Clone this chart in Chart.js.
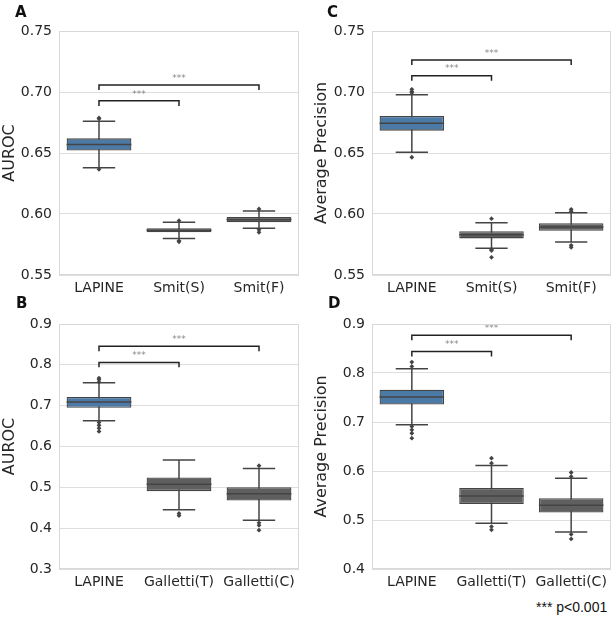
<!DOCTYPE html>
<html>
<head>
<meta charset="utf-8">
<script src="https://cdn.jsdelivr.net/npm/chart.js@4.4.1/dist/chart.umd.min.js"></script>
<style>
  body { margin: 0; background: #fff; }
  #wrap { position: relative; width: 615px; height: 618px; background: #fff; overflow: hidden; }
  .panel { position: absolute; }
  .letter { position: absolute; font: bold 15px "DejaVu Sans", sans-serif; color: #111; line-height: 15px; }
  #note { position: absolute; left: 536px; top: 599px; font: 14px "Liberation Sans", Arial, sans-serif; color: #111; }
</style>
</head>
<body>
<div id="wrap">
  <div class="panel" style="left:0;top:0;width:307px;height:297px"><canvas id="chartA"></canvas></div>
  <div class="panel" style="left:312px;top:0;width:303px;height:297px"><canvas id="chartC"></canvas></div>
  <div class="panel" style="left:0;top:293px;width:307px;height:300px"><canvas id="chartB"></canvas></div>
  <div class="panel" style="left:312px;top:293px;width:303px;height:300px"><canvas id="chartD"></canvas></div>
  <div class="letter" style="left:15px;top:5px">A</div>
  <div class="letter" style="left:327px;top:5px">C</div>
  <div class="letter" style="left:16px;top:296px">B</div>
  <div class="letter" style="left:328px;top:296px">D</div>
  <div id="note">*** p&lt;0.001</div>
</div>
<script>
// categories
const smitLabels = ['LAPINE', 'Smit(S)', 'Smit(F)'];
const gallettiLabels = ['LAPINE', 'Galletti(T)', 'Galletti(C)'];

// box stats per category: [whisker low, q1, median, q3, whisker high]
const aucSmit = [[0.638, 0.652, 0.657, 0.662, 0.676], [0.580, 0.585, 0.5866, 0.5883, 0.5932], [0.5883, 0.5932, 0.5954, 0.5975, 0.6025]];
const apSmit = [[0.6506, 0.6683, 0.6743, 0.6803, 0.6978], [0.5719, 0.580, 0.583, 0.5858, 0.5929], [0.577, 0.5863, 0.5893, 0.5924, 0.601]];
const aucGalletti = [[0.663, 0.695, 0.7088, 0.7211, 0.7562], [0.4449, 0.4907, 0.5078, 0.5242, 0.5667], [0.4196, 0.4678, 0.4842, 0.5005, 0.5462]];
const apGalletti = [[0.6943, 0.7358, 0.7508, 0.7658, 0.8087], [0.4933, 0.5328, 0.5492, 0.5655, 0.6112], [0.4756, 0.5151, 0.5301, 0.5444, 0.5853]];

// outliers: [category index, value]
const aucSmitOut = [[0, 0.6787], [0, 0.6780], [0, 0.6366], [1, 0.5945], [1, 0.578], [1, 0.5772], [2, 0.6041], [2, 0.587], [2, 0.585]];
const apSmitOut = [[0, 0.7022], [0, 0.7005], [0, 0.6994], [0, 0.6465], [1, 0.5962], [1, 0.571], [1, 0.570], [1, 0.5645], [2, 0.6038], [2, 0.6022], [2, 0.5743], [2, 0.5727]];
const aucGallettiOut = [[0, 0.7676], [0, 0.764], [0, 0.7578], [0, 0.659], [0, 0.652], [0, 0.645], [0, 0.637], [1, 0.436], [1, 0.431], [2, 0.5528], [2, 0.413], [2, 0.407], [2, 0.395]];
const apGallettiOut = [[0, 0.8223], [0, 0.8135], [0, 0.691], [0, 0.684], [0, 0.677], [0, 0.667], [1, 0.6262], [1, 0.616], [1, 0.4865], [1, 0.480], [2, 0.5969], [2, 0.5887], [2, 0.4708], [2, 0.4613]];

// significance brackets: [from, to, bar value, tick end value]
const aucSmitBr = [[0, 1, 0.6929, 0.6885], [0, 2, 0.7057, 0.7016]];
const apSmitBr = [[0, 1, 0.7134, 0.7093], [0, 2, 0.7262, 0.7221]];
const aucGallettiBr = [[0, 1, 0.806, 0.7938], [0, 2, 0.8453, 0.833]];
const apGallettiBr = [[0, 1, 0.8441, 0.8339], [0, 2, 0.8768, 0.8666]];

const boxColors = ['#4b7aa7', '#5f5f5f', '#5f5f5f'];
const lineColor = '#444444';
const font = { family: 'DejaVu Sans', size: 14 };
const titleFont = { family: 'DejaVu Sans', size: 16 };

const boxPlugin = {
  id: 'boxParts',
  beforeDatasetsDraw(chart, args, opts) {
    const ctx = chart.ctx, x = chart.scales.x, y = chart.scales.y;
    const bars = chart.getDatasetMeta(0).data;
    ctx.save();
    ctx.strokeStyle = lineColor;
    ctx.lineWidth = 1.5;
    opts.stats.forEach((s, i) => {
      const cx = x.getPixelForValue(i);
      const half = bars[i].width / 4;
      ctx.beginPath();
      ctx.moveTo(cx, y.getPixelForValue(s[0]));
      ctx.lineTo(cx, y.getPixelForValue(s[4]));
      ctx.moveTo(cx - half, y.getPixelForValue(s[0]));
      ctx.lineTo(cx + half, y.getPixelForValue(s[0]));
      ctx.moveTo(cx - half, y.getPixelForValue(s[4]));
      ctx.lineTo(cx + half, y.getPixelForValue(s[4]));
      ctx.stroke();
    });
    ctx.restore();
  },
  afterDatasetsDraw(chart, args, opts) {
    const ctx = chart.ctx, x = chart.scales.x, y = chart.scales.y;
    const bars = chart.getDatasetMeta(0).data;
    const area = chart.chartArea;
    ctx.save();
    // medians
    ctx.strokeStyle = lineColor;
    ctx.lineWidth = 1.5;
    opts.stats.forEach((s, i) => {
      const cx = x.getPixelForValue(i);
      const w = bars[i].width / 2;
      const py = y.getPixelForValue(s[2]);
      ctx.beginPath();
      ctx.moveTo(cx - w, py);
      ctx.lineTo(cx + w, py);
      ctx.stroke();
    });
    // brackets
    ctx.strokeStyle = '#222';
    ctx.lineWidth = 1.5;
    ctx.fillStyle = '#888';
    ctx.font = '9px "DejaVu Sans"';
    ctx.textAlign = 'center';
    ctx.textBaseline = 'bottom';
    opts.brackets.forEach(b => {
      const x1 = x.getPixelForValue(b[0]), x2 = x.getPixelForValue(b[1]);
      const yb = y.getPixelForValue(b[2]), yt = y.getPixelForValue(b[3]);
      ctx.beginPath();
      ctx.moveTo(x1, yt);
      ctx.lineTo(x1, yb);
      ctx.lineTo(x2, yb);
      ctx.lineTo(x2, yt);
      ctx.stroke();
      ctx.fillText('***', (x1 + x2) / 2, yb - 2);
    });
    // frame
    ctx.strokeStyle = '#d8d8d8';
    ctx.lineWidth = 1;
    ctx.strokeRect(area.left + 0.5, area.top + 0.5, area.right - area.left - 1, area.bottom - area.top - 1);
    ctx.restore();
  }
};

function makePanel(id, labels, stats, outliers, brackets, yMin, yMax, step, digits, title, padRight, yWidth, xHeight) {
  new Chart(document.getElementById(id), {
    type: 'bar',
    data: {
      labels: labels,
      datasets: [{
        data: stats.map(s => [s[1], s[3]]),
        backgroundColor: boxColors,
        borderColor: lineColor,
        borderWidth: 1.3,
        borderSkipped: false,
        barPercentage: 0.81,
        categoryPercentage: 1
      }, {
        type: 'line',
        data: outliers.map(o => ({ x: labels[o[0]], y: o[1] })),
        showLine: false,
        pointStyle: 'rectRot',
        pointRadius: 2.4,
        pointBackgroundColor: lineColor,
        pointBorderColor: lineColor,
        pointBorderWidth: 0
      }]
    },
    options: {
      responsive: true,
      maintainAspectRatio: false,
      animation: false,
      layout: { padding: { top: 31, right: padRight, left: 0, bottom: 0 } },
      plugins: {
        legend: { display: false },
        tooltip: { enabled: false },
        boxParts: { stats: stats, brackets: brackets }
      },
      scales: {
        x: {
          grid: { display: false, drawTicks: false },
          border: { display: false },
          ticks: { font: font, color: '#262626', padding: 5 },
          afterFit(scale) { scale.height = xHeight; }
        },
        y: {
          min: yMin,
          max: yMax,
          grid: { color: '#dedede', drawTicks: false, lineWidth: 1 },
          border: { display: false },
          ticks: {
            stepSize: step,
            font: font,
            color: '#262626',
            padding: 7,
            callback: v => v.toFixed(digits)
          },
          title: { display: true, text: title, font: titleFont, color: '#262626', padding: { top: 0.5, bottom: 0 } },
          afterFit(scale) { scale.width = yWidth; }
        }
      }
    },
    plugins: [boxPlugin]
  });
}

makePanel('chartA', smitLabels, aucSmit, aucSmitOut, aucSmitBr, 0.55, 0.75, 0.05, 2, 'AUROC', 8, 59, 22);
makePanel('chartC', smitLabels, apSmit, apSmitOut, apSmitBr, 0.55, 0.75, 0.05, 2, 'Average Precision', 4, 60, 22);
makePanel('chartB', gallettiLabels, aucGalletti, aucGallettiOut, aucGallettiBr, 0.3, 0.9, 0.1, 1, 'AUROC', 8, 59, 24);
makePanel('chartD', gallettiLabels, apGalletti, apGallettiOut, apGallettiBr, 0.4, 0.9, 0.1, 1, 'Average Precision', 4, 60, 24);
</script>
</body>
</html>
